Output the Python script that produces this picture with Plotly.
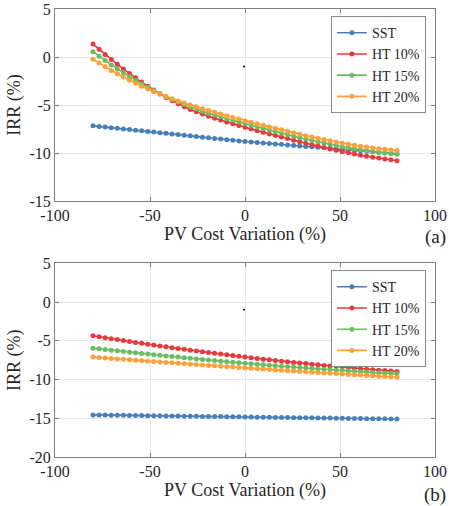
import plotly.graph_objects as go
from plotly.subplots import make_subplots

# PV cost variation (%) sampled in 3.2 % steps
pv_variation = [
    -80.0, -76.8, -73.6, -70.4, -67.2, -64.0, -60.8, -57.6, -54.4, -51.2,
    -48.0, -44.8, -41.6, -38.4, -35.2, -32.0, -28.8, -25.6, -22.4, -19.2,
    -16.0, -12.8, -9.6, -6.4, -3.2, 0.0, 3.2, 6.4, 9.6, 12.8,
    16.0, 19.2, 22.4, 25.6, 28.8, 32.0, 35.2, 38.4, 41.6, 44.8,
    48.0, 51.2, 54.4, 57.6, 60.8, 64.0, 67.2, 70.4, 73.6, 76.8, 80.0,
]

# Panel (a): IRR (%)
irr_a_sst = [
    -7.17, -7.24, -7.30, -7.37, -7.43, -7.50, -7.56, -7.63, -7.69, -7.76,
    -7.82, -7.89, -7.95, -8.02, -8.08, -8.15, -8.21, -8.28, -8.35, -8.41,
    -8.48, -8.54, -8.61, -8.67, -8.74, -8.80, -8.85, -8.90, -8.95, -9.00,
    -9.05, -9.10, -9.16, -9.21, -9.26, -9.31, -9.36, -9.41, -9.46, -9.51,
    -9.56, -9.61, -9.66, -9.71, -9.77, -9.82, -9.87, -9.92, -9.97, -10.02, -10.07,
]
irr_a_ht10 = [
    1.35, 0.81, 0.27, -0.26, -0.76, -1.24, -1.73, -2.17, -2.61, -3.04,
    -3.44, -3.82, -4.21, -4.56, -4.87, -5.18, -5.47, -5.71, -5.94, -6.17,
    -6.37, -6.57, -6.77, -6.96, -7.14, -7.32, -7.49, -7.67, -7.84, -8.01,
    -8.17, -8.34, -8.50, -8.66, -8.82, -8.98, -9.13, -9.28, -9.43, -9.58,
    -9.72, -9.86, -9.98, -10.11, -10.23, -10.33, -10.43, -10.53, -10.62, -10.71, -10.80,
]
irr_a_ht15 = [
    0.55, 0.09, -0.37, -0.82, -1.24, -1.64, -2.05, -2.43, -2.79, -3.16,
    -3.50, -3.82, -4.14, -4.43, -4.69, -4.96, -5.20, -5.42, -5.64, -5.85,
    -6.04, -6.23, -6.42, -6.60, -6.77, -6.95, -7.12, -7.29, -7.46, -7.62,
    -7.78, -7.94, -8.10, -8.25, -8.40, -8.55, -8.69, -8.83, -8.96, -9.09,
    -9.22, -9.34, -9.45, -9.55, -9.65, -9.74, -9.82, -9.91, -9.99, -10.06, -10.14,
]
irr_a_ht20 = [
    -0.24, -0.63, -1.01, -1.40, -1.75, -2.09, -2.43, -2.74, -3.04, -3.34,
    -3.61, -3.87, -4.12, -4.36, -4.58, -4.79, -5.00, -5.19, -5.39, -5.58,
    -5.76, -5.94, -6.12, -6.29, -6.46, -6.63, -6.79, -6.96, -7.12, -7.28,
    -7.43, -7.59, -7.74, -7.89, -8.04, -8.19, -8.33, -8.47, -8.60, -8.73,
    -8.86, -8.98, -9.09, -9.20, -9.30, -9.38, -9.47, -9.55, -9.62, -9.68, -9.75,
]

# Panel (b): IRR (%)
irr_b_sst = [
    -14.57, -14.58, -14.59, -14.60, -14.61, -14.62, -14.63, -14.64, -14.65, -14.67,
    -14.68, -14.69, -14.70, -14.71, -14.72, -14.73, -14.74, -14.75, -14.76, -14.77,
    -14.78, -14.79, -14.80, -14.81, -14.82, -14.84, -14.85, -14.86, -14.87, -14.88,
    -14.89, -14.90, -14.91, -14.92, -14.93, -14.94, -14.95, -14.96, -14.97, -14.98,
    -14.99, -15.00, -15.02, -15.03, -15.04, -15.05, -15.06, -15.07, -15.08, -15.09, -15.10,
]
irr_b_ht10 = [
    -4.35, -4.48, -4.60, -4.73, -4.85, -4.97, -5.09, -5.21, -5.33, -5.44,
    -5.56, -5.67, -5.78, -5.89, -6.00, -6.11, -6.21, -6.32, -6.42, -6.52,
    -6.62, -6.72, -6.82, -6.91, -7.01, -7.10, -7.19, -7.28, -7.37, -7.46,
    -7.54, -7.63, -7.71, -7.79, -7.87, -7.95, -8.03, -8.11, -8.18, -8.26,
    -8.33, -8.40, -8.47, -8.54, -8.60, -8.67, -8.73, -8.79, -8.85, -8.91, -8.97,
]
irr_b_ht15 = [
    -5.95, -6.04, -6.13, -6.21, -6.30, -6.39, -6.47, -6.55, -6.64, -6.72,
    -6.80, -6.88, -6.96, -7.04, -7.11, -7.19, -7.26, -7.34, -7.41, -7.49,
    -7.56, -7.63, -7.70, -7.77, -7.83, -7.90, -7.97, -8.03, -8.10, -8.16,
    -8.22, -8.28, -8.34, -8.40, -8.46, -8.52, -8.57, -8.63, -8.68, -8.74,
    -8.79, -8.84, -8.89, -8.94, -8.99, -9.04, -9.09, -9.14, -9.18, -9.23, -9.27,
]
irr_b_ht20 = [
    -7.10, -7.16, -7.22, -7.28, -7.34, -7.40, -7.45, -7.51, -7.57, -7.63,
    -7.68, -7.74, -7.80, -7.85, -7.91, -7.96, -8.02, -8.07, -8.13, -8.18,
    -8.24, -8.29, -8.34, -8.40, -8.45, -8.50, -8.55, -8.60, -8.65, -8.71,
    -8.76, -8.81, -8.86, -8.91, -8.96, -9.00, -9.05, -9.10, -9.15, -9.20,
    -9.24, -9.29, -9.34, -9.38, -9.43, -9.48, -9.52, -9.57, -9.61, -9.66, -9.70,
]

# stray point present in both panels
stray_x = [-0.5]
stray_y = [-1.0]

series_names = ["SST", "HT 10%", "HT 15%", "HT 20%"]
series_colors = ["#4a80b8", "#e8393c", "#6cbd62", "#ffa03a"]

x_ticks = [-100, -50, 0, 50, 100]
x_tick_text = ["-100", "-50", "0", "50", "100"]
y_ticks_a = [-15, -10, -5, 0, 5]
y_tick_text_a = ["-15", "-10", "-5", "0", "5"]
y_ticks_b = [-20, -15, -10, -5, 0, 5]
y_tick_text_b = ["-20", "-15", "-10", "-5", "0", "5"]

FONT = "Liberation Serif"
TXT = "#262626"

fig = make_subplots(rows=2, cols=1, vertical_spacing=0.14)

panels = [
    (1, [irr_a_sst, irr_a_ht10, irr_a_ht15, irr_a_ht20], "legend"),
    (2, [irr_b_sst, irr_b_ht10, irr_b_ht15, irr_b_ht20], "legend2"),
]
for row, data, leg in panels:
    for name, color, ys in zip(series_names, series_colors, data):
        fig.add_trace(
            go.Scatter(
                x=pv_variation, y=ys, name=name, mode="lines+markers",
                line=dict(color=color, width=1.6),
                marker=dict(color=color, size=5, symbol="circle"),
                legend=leg,
            ),
            row=row, col=1,
        )
    fig.add_trace(
        go.Scatter(x=stray_x, y=stray_y, mode="markers", showlegend=False,
                   marker=dict(color="#000000", size=2)),
        row=row, col=1,
    )

axis_common = dict(
    automargin=False,
    showline=True, linecolor="#7f7f7f", linewidth=1, mirror="allticks",
    ticks="inside", ticklen=4, tickcolor="#7f7f7f",
    showgrid=True, gridcolor="#e6e6e6", gridwidth=1, zeroline=False,
    tickfont=dict(family=FONT, size=16, color=TXT),
)

fig.update_xaxes(axis_common)
fig.update_yaxes(axis_common)

for row in (1, 2):
    fig.update_xaxes(
        range=[-100, 100], tickvals=x_ticks, ticktext=x_tick_text,
        title=dict(text="PV Cost Variation (%)", font=dict(family=FONT, size=18, color=TXT), standoff=2),
        row=row, col=1,
    )

fig.update_yaxes(range=[-15, 5], tickvals=y_ticks_a, ticktext=y_tick_text_a,
                 domain=[0.5714, 1.0],
                 title=dict(text="IRR (%)", font=dict(family=FONT, size=18, color=TXT), standoff=4),
                 row=1, col=1)
fig.update_yaxes(range=[-20, 5], tickvals=y_ticks_b, ticktext=y_tick_text_b,
                 domain=[0.0, 0.4324],
                 title=dict(text="IRR (%)", font=dict(family=FONT, size=18, color=TXT), standoff=4),
                 row=2, col=1)

legend_style = dict(
    font=dict(family=FONT, size=14, color=TXT),
    bgcolor="#ffffff", bordercolor="#8a8a8a", borderwidth=1,
    xanchor="right", yanchor="top", x=0.976,
    tracegroupgap=0, itemwidth=30,
)

fig.update_layout(
    width=449, height=506,
    margin=dict(l=55, r=14, t=9, b=49, autoexpand=False),
    paper_bgcolor="#ffffff", plot_bgcolor="#ffffff",
    font=dict(family=FONT, color=TXT),
    legend=dict(legend_style, y=0.984),
    legend2=dict(legend_style, y=0.417),
    annotations=[
        dict(text="(a)", x=1.0, y=0.491, xref="paper", yref="paper",
             xanchor="center", yanchor="middle", showarrow=False,
             font=dict(family=FONT, size=19, color=TXT)),
        dict(text="(b)", x=1.0, y=-0.085, xref="paper", yref="paper",
             xanchor="center", yanchor="middle", showarrow=False,
             font=dict(family=FONT, size=19, color=TXT)),
    ],
)

fig.write_html("out.html")
